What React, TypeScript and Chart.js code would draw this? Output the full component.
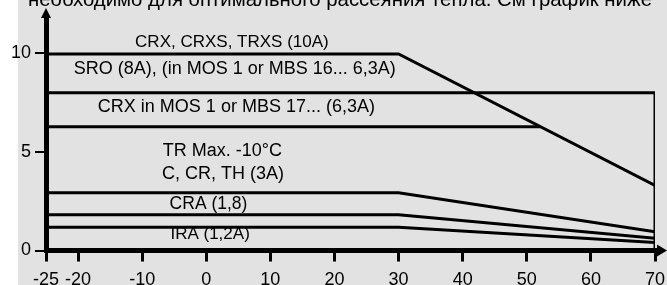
import React, { useEffect, useRef } from "react";
import { Chart, registerables } from "chart.js";

Chart.register(...registerables);

const xTicks = [-25, -20, -10, 0, 10, 20, 30, 40, 50, 60, 70];
const yTicks = [0, 5, 10];

const crx10X = [-25, 30, 70];
const crx10Y = [9.97, 9.97, 3.3];
const sroX = [-25, 70, 70];
const sroY = [8, 8, 0];
const crx63X = [-25, 52.1];
const crx63Y = [6.27, 6.27];
const c3X = [-25, 30, 70];
const c3Y = [2.93, 2.93, 0.95];
const craX = [-25, 30, 70];
const craY = [1.81, 1.81, 0.62];
const iraX = [-25, 30, 70];
const iraY = [1.18, 1.18, 0.4];

const labelTexts = [
  "CRX, CRXS, TRXS (10A)",
  "SRO (8A), (in MOS 1 or MBS 16... 6,3A)",
  "CRX in MOS 1 or MBS 17... (6,3A)",
  "TR Max. -10°C",
  "C, CR, TH (3A)",
  "CRA (1,8)",
  "IRA (1,2A)",
];
const labelX = [4.0, 4.45, 4.7, 2.5, 2.6, 0.35, 0.6];
const labelY = [10.57, 9.2, 7.3, 5.02, 3.9, 2.33, 0.81];
const labelSize = [17, 18, 18, 18, 18, 17.5, 17];

const topText = "необходимо для оптимального рассеяния тепла. См график ниже";

const FONT = "'Liberation Sans', Arial, sans-serif";

function pts(xs: number[], ys: number[]) {
  return xs.map((x, i) => ({ x, y: ys[i] }));
}

const series = [
  pts(crx10X, crx10Y),
  pts(sroX, sroY),
  pts(crx63X, crx63Y),
  pts(c3X, c3Y),
  pts(craX, craY),
  pts(iraX, iraY),
];

const decorPlugin = {
  id: "decor",
  beforeDraw(chart: any) {
    const ctx = chart.ctx;
    ctx.save();
    ctx.fillStyle = "#ffffff";
    ctx.fillRect(0, 0, chart.width, chart.height);
    ctx.fillStyle = "#e2e2e2";
    ctx.fillRect(18, 0, chart.width - 18, chart.height);
    ctx.fillStyle = "#000";
    ctx.font = `20.4px ${FONT}`;
    ctx.textAlign = "left";
    ctx.textBaseline = "alphabetic";
    ctx.fillText(topText, 28, 5.5);
    ctx.restore();
  },
  afterDraw(chart: any) {
    const ctx = chart.ctx;
    const xs = chart.scales.x;
    const ys = chart.scales.y;
    const a = chart.chartArea;
    ctx.save();
    ctx.fillStyle = "#000";
    // y arrow
    const ax = a.left;
    ctx.beginPath();
    ctx.moveTo(ax, 8);
    ctx.lineTo(ax + 5, a.top + 1);
    ctx.lineTo(ax - 5, a.top + 1);
    ctx.closePath();
    ctx.fill();
    // x arrow
    const ay = a.bottom;
    ctx.fillRect(a.right, ay - 2.5, 4, 5);
    ctx.beginPath();
    ctx.moveTo(667, ay);
    ctx.lineTo(a.right + 2, ay - 6);
    ctx.lineTo(a.right + 2, ay + 6);
    ctx.closePath();
    ctx.fill();
    // labels
    ctx.textAlign = "center";
    ctx.textBaseline = "middle";
    labelTexts.forEach((t, i) => {
      ctx.font = `${labelSize[i]}px ${FONT}`;
      ctx.fillText(t, xs.getPixelForValue(labelX[i]), ys.getPixelForValue(labelY[i]));
    });
    ctx.restore();
  },
};

export default function App() {
  const ref = useRef<HTMLCanvasElement | null>(null);
  useEffect(() => {
    if (!ref.current) return;
    const chart = new Chart(ref.current, {
      type: "line",
      data: {
        datasets: series.map((d) => ({
          data: d,
          borderColor: "#000",
          borderWidth: 3,
          pointRadius: 0,
          tension: 0,
          fill: false,
        })),
      },
      options: {
        animation: false,
        responsive: false,
        devicePixelRatio: 1,
        layout: { padding: { top: 17, right: 12, left: 0, bottom: 0 } },
        plugins: {
          legend: { display: false },
          tooltip: { enabled: false },
        },
        scales: {
          x: {
            type: "linear",
            min: -25,
            max: 70,
            afterBuildTicks: (axis: any) => {
              axis.ticks = xTicks.map((v) => ({ value: v }));
            },
            afterFit: (s: any) => {
              s.height = 34.5;
              s.paddingLeft = 0;
              s.paddingRight = 0;
            },
            grid: {
              drawOnChartArea: false,
              drawTicks: true,
              tickLength: 11,
              lineWidth: 3,
              color: "#000",
            },
            border: { display: true, color: "#000", width: 5 },
            ticks: {
              autoSkip: false,
              maxRotation: 0,
              color: "#000",
              font: { family: FONT, size: 18 },
              padding: 8,
              callback: (v: any) => String(v),
            },
          },
          y: {
            type: "linear",
            min: 0,
            max: 11.84,
            afterBuildTicks: (axis: any) => {
              axis.ticks = yTicks.map((v) => ({ value: v }));
            },
            afterFit: (s: any) => {
              s.width = 46;
              s.paddingTop = 0;
              s.paddingBottom = 0;
            },
            grid: {
              drawOnChartArea: false,
              drawTicks: true,
              tickLength: 11,
              lineWidth: 2,
              color: "#000",
            },
            border: { display: true, color: "#000", width: 5 },
            ticks: {
              color: "#000",
              font: { family: FONT, size: 18 },
              padding: 4,
              callback: (v: any) => String(v),
            },
          },
        },
      },
      plugins: [decorPlugin],
    } as any);
    return () => chart.destroy();
  }, []);
  return (
    <div style={{ position: "absolute", left: 0, top: 0, width: 667, height: 285 }}>
      <canvas ref={ref} width={667} height={285} style={{ display: "block" }} />
    </div>
  );
}
